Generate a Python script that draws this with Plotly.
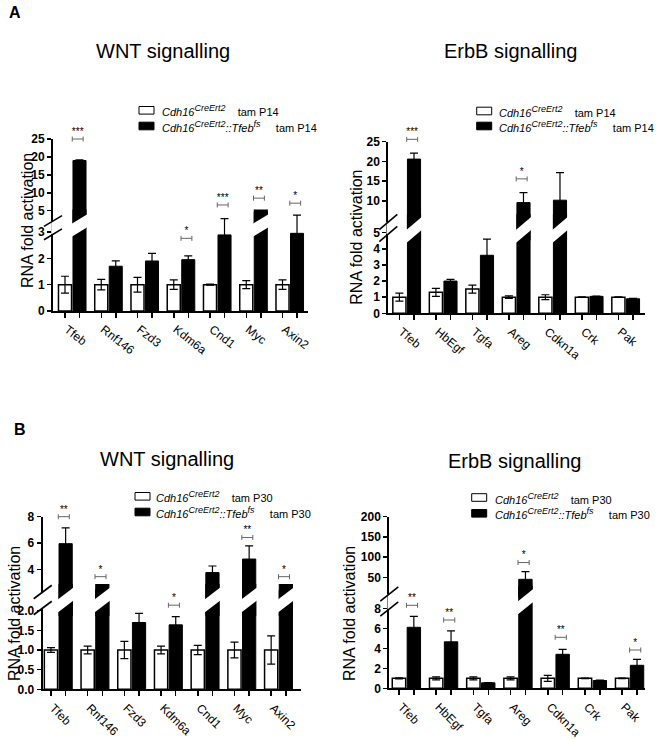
import plotly.graph_objects as go

W, H = 662, 739
FONT = "Arial, 'Liberation Sans', Helvetica, sans-serif"

# ---------------- data ----------------
wnt_genes = ["Tfeb", "Rnf146", "Fzd3", "Kdm6a", "Cnd1", "Myc", "Axin2"]
erbb_genes = ["Tfeb", "HbEgf", "Tgfa", "Areg", "Cdkn1a", "Crk", "Pak"]

# A - WNT signalling, tam P14
wnt_p14_ctrl = [1.0, 1.0, 1.0, 1.0, 1.0, 1.0, 1.0]
wnt_p14_ctrl_sem = [0.32, 0.20, 0.28, 0.18, 0.02, 0.15, 0.18]
wnt_p14_tfeb = [19.0, 1.70, 1.90, 1.95, 2.89, 4.70, 2.95]
wnt_p14_tfeb_sem = [0.15, 0.20, 0.29, 0.14, 0.62, 0.28, 0.69]
wnt_p14_stars = ["***", "", "", "*", "***", "**", "*"]
wnt_p14_star_level = [25.0, None, None, 2.76, 6.6, 8.5, 7.1]
wnt_p14_star_seg = ["hi", "", "", "lo", "hi", "hi", "hi"]

# A - ErbB signalling, tam P14
erbb_p14_ctrl = [1.0, 1.3, 1.5, 1.0, 1.0, 1.0, 1.0]
erbb_p14_ctrl_sem = [0.25, 0.25, 0.25, 0.08, 0.15, 0.02, 0.02]
erbb_p14_tfeb = [20.6, 2.0, 3.6, 9.6, 10.2, 1.05, 0.9]
erbb_p14_tfeb_sem = [1.5, 0.1, 1.0, 2.5, 7.0, 0.02, 0.02]
erbb_p14_stars = ["***", "", "", "*", "", "", ""]
erbb_p14_star_level = [25.6, None, None, 15.6, None, None, None]
erbb_p14_star_seg = ["hi", "", "", "hi", "", "", ""]

# B - WNT signalling, tam P30
wnt_p30_ctrl = [1.0, 1.0, 1.0, 1.0, 1.0, 1.0, 1.0]
wnt_p30_ctrl_sem = [0.06, 0.10, 0.22, 0.10, 0.12, 0.20, 0.36]
wnt_p30_tfeb = [5.95, 2.45, 1.70, 1.64, 3.75, 4.78, 2.42]
wnt_p30_tfeb_sem = [1.2, 0.05, 0.23, 0.21, 0.5, 1.0, 0.05]
wnt_p30_stars = ["**", "*", "", "*", "", "**", "*"]
wnt_p30_star_level = [8.0, 3.44, None, 2.14, None, 6.42, 3.44]
wnt_p30_star_seg = ["hi", "hi", "", "lo", "", "hi", "hi"]

# B - ErbB signalling, tam P30
erbb_p30_ctrl = [1.0, 1.0, 1.0, 1.0, 1.0, 1.0, 1.0]
erbb_p30_ctrl_sem = [0.05, 0.15, 0.15, 0.15, 0.3, 0.03, 0.03]
erbb_p30_tfeb = [6.1, 4.65, 0.55, 45.0, 3.4, 0.78, 2.3]
erbb_p30_tfeb_sem = [1.1, 1.1, 0.03, 19.0, 0.5, 0.05, 0.6]
erbb_p30_stars = ["**", "**", "", "*", "**", "", "*"]
erbb_p30_star_level = [8.3, 6.83, None, 86.5, 5.1, None, 3.83]
erbb_p30_star_seg = ["lo", "lo", "", "hi", "lo", "", "lo"]

# ---------------- panel geometry (pixels) ----------------
panels = [
    dict(genes=wnt_genes, ctrl=wnt_p14_ctrl, ctrl_sem=wnt_p14_ctrl_sem,
         ko=wnt_p14_tfeb, ko_sem=wnt_p14_tfeb_sem, stars=wnt_p14_stars,
         star_level=wnt_p14_star_level, star_seg=wnt_p14_star_seg, tam="P14",
         g=dict(x0=53, x1=308, xr=[-0.531, 6.503], lo_zero=311, lo_ppu=26.33,
                hi_ref_v=25, hi_ref_px=139, hi_ppu=3.585, hi_top=139,
                c=225.5, slash=(221, 234.3), m=0.6, brk=3.2,
                lo_ticks=[0, 1, 2, 3], lo_text=["0", "1", "2", "3"],
                hi_ticks=[5, 10, 15, 20, 25], xangle=38, xfont=12,
                title="WNT signalling", title_xy=(162.5, 51), ytitle_xy=(27, 221),
                leg=(139, 110.3, 126, 160))),
    dict(genes=erbb_genes, ctrl=erbb_p14_ctrl, ctrl_sem=erbb_p14_ctrl_sem,
         ko=erbb_p14_tfeb, ko_sem=erbb_p14_tfeb_sem, stars=erbb_p14_stars,
         star_level=erbb_p14_star_level, star_seg=erbb_p14_star_seg, tam="P14",
         g=dict(x0=388.3, x1=645, xr=[-0.504, 6.529], lo_zero=313.3, lo_ppu=16.12,
                hi_ref_v=25, hi_ref_px=141.7, hi_ppu=3.953, hi_top=141.7,
                c=230, slash=(222, 234), m=0.85, brk=5.2,
                lo_ticks=[0, 1, 2, 3, 4, 5], lo_text=["0", "1", "2", "3", "4", "5"],
                hi_ticks=[10, 15, 20, 25], xangle=40, xfont=12,
                title="ErbB signalling", title_xy=(510, 51), ytitle_xy=(356.7, 237),
                leg=(476.7, 111, 126, 496.7))),
    dict(genes=wnt_genes, ctrl=wnt_p30_ctrl, ctrl_sem=wnt_p30_ctrl_sem,
         ko=wnt_p30_tfeb, ko_sem=wnt_p30_tfeb_sem, stars=wnt_p30_stars,
         star_level=wnt_p30_star_level, star_seg=wnt_p30_star_seg, tam="P30",
         g=dict(x0=42.7, x1=301, xr=[-0.425, 6.613], lo_zero=689.3, lo_ppu=39.3,
                hi_ref_v=8, hi_ref_px=516.7, hi_ppu=13.15, hi_top=516.7,
                c=600, slash=(592, 608), m=0.75, brk=2.1,
                lo_ticks=[0, 0.5, 1, 1.5, 2], lo_text=["0.0", "0.5", "1.0", "1.5", "2.0"],
                hi_ticks=[4, 6, 8], xangle=45, xfont=12,
                title="WNT signalling", title_xy=(167, 459), ytitle_xy=(14, 614),
                leg=(135, 496.3, 512, 154.3))),
    dict(genes=erbb_genes, ctrl=erbb_p30_ctrl, ctrl_sem=erbb_p30_ctrl_sem,
         ko=erbb_p30_tfeb, ko_sem=erbb_p30_tfeb_sem, stars=erbb_p30_stars,
         star_level=erbb_p30_star_level, star_seg=erbb_p30_star_seg, tam="P30",
         g=dict(x0=389.3, x1=645, xr=[-0.46, 6.414], lo_zero=688.3, lo_ppu=10.0,
                hi_ref_v=200, hi_ref_px=516.7, hi_ppu=0.404, hi_top=516.7,
                c=601.7, slash=(594, 609), m=0.8, brk=8.5,
                lo_ticks=[0, 2, 4, 6, 8], lo_text=["0", "2", "4", "6", "8"],
                hi_ticks=[50, 100, 150, 200], xangle=45, xfont=12,
                title="ErbB signalling", title_xy=(514, 461), ytitle_xy=(349, 614),
                leg=(471.7, 497.5, 513.3, 492.7))),
]

BW = 0.36      # bar width (category units)
OFF = 0.2      # offset of each bar from category centre
SIG_DX = 0.15  # bracket centre offset
SIG_HW = 0.15  # bracket half width
BAND_T = 13    # thickness of the white break band (px)
EXTRA = 30     # extra px above the top segment for brackets


def py(px):
    return 1 - px / H


def ax_names(i):
    return ("x" if i == 1 else f"x{i}", "y" if i == 1 else f"y{i}",
            "xaxis" if i == 1 else f"xaxis{i}", "yaxis" if i == 1 else f"yaxis{i}")


fig = go.Figure()
lay = {}
shapes = []
annotations = []

for k, P in enumerate(panels):
    G = P["g"]
    genes = P["genes"]
    xs = list(range(len(genes)))
    xa_lo, ya_lo, xk_lo, yk_lo = ax_names(3 * k + 1)
    xa_hi, ya_hi, xk_hi, yk_hi = ax_names(3 * k + 2)
    xa_sg, ya_sg, xk_sg, yk_sg = ax_names(3 * k + 3)

    c = G["c"]
    lo_top_px = c - 16
    lo_range = [0, (G["lo_zero"] - lo_top_px) / G["lo_ppu"]]
    zero_hi_px = G["hi_ref_px"] + G["hi_ref_v"] * G["hi_ppu"]
    hi_bot_px = min(c + 16, zero_hi_px)
    hi_range = [G["hi_ref_v"] - (hi_bot_px - G["hi_ref_px"]) / G["hi_ppu"],
                G["hi_ref_v"] + (G["hi_ref_px"] - G["hi_top"]) / G["hi_ppu"]]
    sg_range = [hi_range[0], hi_range[1] + EXTRA / G["hi_ppu"]]
    brk = G["brk"]
    fill_lo = lo_range[1] * 3

    def split(vals, sems):
        lo_v = [v if v <= brk else fill_lo for v in vals]
        hi_v = [v if v > brk else None for v in vals]
        hi_s = [s if v > brk else None for v, s in zip(vals, sems)]
        return lo_v, sems, hi_v, hi_s

    series = [
        (P["ctrl"], P["ctrl_sem"], "white", 1.5, -OFF, f"Cdh16 CreErt2 tam {P['tam']}"),
        (P["ko"], P["ko_sem"], "black", 1.0, OFF, f"Cdh16 CreErt2::Tfeb fs tam {P['tam']}"),
    ]
    for vals, sems, col, lw, off, name in series:
        lo_v, lo_s, hi_v, hi_s = split(vals, sems)
        for yv, ys, xa, ya in ((lo_v, lo_s, xa_lo, ya_lo), (hi_v, hi_s, xa_hi, ya_hi)):
            if all(v is None for v in yv):
                continue
            fig.add_trace(go.Bar(
                x=xs, y=yv, width=BW, offset=off - BW / 2, name=name,
                marker=dict(color=col, line=dict(color="black", width=lw)),
                error_y=dict(type="data", array=ys, visible=True, color="black",
                             thickness=1.2, width=4),
                xaxis=xa, yaxis=ya, showlegend=False, hoverinfo="skip"))

    # significance brackets + stars
    for seg, xa, ya in (("lo", xa_lo, ya_lo), ("hi", xa_sg, ya_sg)):
        idx = [i for i in xs if P["star_seg"][i] == seg]
        if not idx:
            continue
        fig.add_trace(go.Scatter(
            x=[i + SIG_DX for i in idx], y=[P["star_level"][i] for i in idx],
            text=[P["stars"][i] for i in idx], mode="markers+text",
            textposition="top center",
            textfont=dict(size=10, color="black", family=FONT),
            marker=dict(size=1, color="rgba(0,0,0,0)"),
            error_x=dict(type="constant", value=SIG_HW, color="#666666",
                         thickness=1, width=2.5),
            cliponaxis=False, xaxis=xa, yaxis=ya, showlegend=False,
            hoverinfo="skip"))

    xdom = [G["x0"] / W, G["x1"] / W]
    minor_vals = [i + d for i in xs for d in (-OFF, OFF)]
    lay[xk_lo] = dict(
        domain=xdom, range=G["xr"], anchor=ya_lo, tickmode="array",
        tickvals=xs, ticktext=genes, tickangle=G["xangle"], ticks="outside", ticklen=5,
        tickcolor="rgba(0,0,0,0)", showline=True, linecolor="black", linewidth=2,
        showgrid=False, zeroline=False, automargin=False, fixedrange=True,
        ticklabelshift=-5,
        tickfont=dict(size=G["xfont"], family=FONT, color="black"),
        minor=dict(tickmode="array", tickvals=minor_vals, ticks="outside",
                   ticklen=5, tickwidth=1.5, tickcolor="black", showgrid=False))
    lay[xk_hi] = dict(domain=xdom, range=G["xr"], anchor=ya_hi,
                      visible=False, fixedrange=True)
    lay[xk_sg] = dict(domain=xdom, range=G["xr"], anchor=ya_sg,
                      visible=False, fixedrange=True)
    yaxis_common = dict(ticks="outside", ticklen=4, tickwidth=1.5, tickcolor="black",
                        showline=True, linecolor="black", linewidth=2,
                        showgrid=False, zeroline=False, automargin=False,
                        fixedrange=True,
                        tickfont=dict(size=12, family=FONT, color="black",
                                      weight="bold"))
    lay[yk_lo] = dict(domain=[py(G["lo_zero"]), py(lo_top_px)], range=lo_range,
                      anchor=xa_lo, tickmode="array", tickvals=G["lo_ticks"],
                      ticktext=G["lo_text"], **yaxis_common)
    lay[yk_hi] = dict(domain=[py(hi_bot_px), py(G["hi_top"])], range=hi_range,
                      anchor=xa_hi, tickmode="array", tickvals=G["hi_ticks"],
                      ticktext=[str(t) for t in G["hi_ticks"]], **yaxis_common)
    lay[yk_sg] = dict(domain=[py(hi_bot_px), py(G["hi_top"] - EXTRA)], range=sg_range,
                      anchor=xa_sg, visible=False, fixedrange=True)

    # axis break: hide axis between slashes, draw the two slashes
    ax = G["x0"]
    s_hi, s_lo = G["slash"]
    m = G["m"]
    shapes.append(dict(type="rect", xref="paper", yref="paper",
                       x0=(ax - 1.8) / W, x1=(ax + 1.8) / W, y0=py(s_lo), y1=py(s_hi),
                       fillcolor="white", line=dict(width=0), layer="above"))
    for s in (s_hi, s_lo):
        L = 9
        shapes.append(dict(type="line", xref="paper", yref="paper",
                           x0=(ax - L) / W, y0=py(s + m * L), x1=(ax + L) / W,
                           y1=py(s - m * L), line=dict(color="black", width=1.6),
                           layer="above"))
    # break band across broken bars
    sp = (G["x1"] - G["x0"]) / (G["xr"][1] - G["xr"][0])
    hw = BW / 2 + 0.07
    hw_px = hw * sp
    for vals, off in ((P["ctrl"], -OFF), (P["ko"], OFF)):
        for i, v in enumerate(vals):
            if v <= brk:
                continue
            xc = i + off
            xL, xR = xc - hw, xc + hw
            yL_lo = c + BAND_T / 2 + m * hw_px
            yR_lo = c + BAND_T / 2 - m * hw_px
            yR_hi = c - BAND_T / 2 - m * hw_px
            yL_hi = c - BAND_T / 2 + m * hw_px
            path = (f"M{xL},{py(yL_lo)} L{xR},{py(yR_lo)} "
                    f"L{xR},{py(yR_hi)} L{xL},{py(yL_hi)} Z")
            shapes.append(dict(type="path", xref=xa_lo, yref="paper", path=path,
                               fillcolor="white", line=dict(width=0), layer="above"))

    # titles
    tx, ty = G["title_xy"]
    annotations.append(dict(text=G["title"], x=tx / W, y=py(ty), xref="paper",
                            yref="paper", xanchor="center", yanchor="middle",
                            showarrow=False,
                            font=dict(size=20, family=FONT, color="black")))
    yx, yy = G["ytitle_xy"]
    annotations.append(dict(text="RNA fold activation", x=yx / W, y=py(yy),
                            xref="paper", yref="paper", xanchor="center",
                            yanchor="middle", textangle=-90, showarrow=False,
                            font=dict(size=16, family=FONT, color="black")))

    # legend (drawn manually)
    bx, r1, r2, tx0 = G["leg"]
    for rowy, col in ((r1, "white"), (r2, "black")):
        shapes.append(dict(type="rect", xref="paper", yref="paper",
                           x0=bx / W, x1=(bx + 15) / W, y0=py(rowy + 3.8),
                           y1=py(rowy - 3.8), fillcolor=col,
                           line=dict(color="black", width=1)))
    sup = lambda s: f"<sup><span style='font-size:9px'>{s}</span></sup>"
    lab1 = f"<i>Cdh16{sup('CreErt2')}</i>&nbsp;&nbsp;&nbsp;&nbsp;tam {P['tam']}"
    lab2 = (f"<i>Cdh16{sup('CreErt2')}::Tfeb{sup('fs')}</i>"
            f"&nbsp;&nbsp;&nbsp;&nbsp;&nbsp;tam {P['tam']}")
    for rowy, lab in ((r1, lab1), (r2, lab2)):
        annotations.append(dict(text=lab, x=tx0 / W, y=py(rowy + 0.5), xref="paper",
                                yref="paper", xanchor="left", yanchor="middle",
                                showarrow=False,
                                font=dict(size=11, family=FONT, color="black")))

# panel letters
annotations.append(dict(text="<b>A</b>", x=7 / W, y=py(12.5), xref="paper", yref="paper",
                        xanchor="left", yanchor="middle", showarrow=False,
                        font=dict(size=16, family=FONT, color="black")))
annotations.append(dict(text="<b>B</b>", x=12 / W, y=py(429.5), xref="paper",
                        yref="paper", xanchor="left", yanchor="middle",
                        showarrow=False, font=dict(size=16, family=FONT, color="black")))

fig.update_layout(
    width=W, height=H, margin=dict(l=0, r=0, t=0, b=0),
    paper_bgcolor="white", plot_bgcolor="rgba(0,0,0,0)",
    barmode="overlay", showlegend=False, font=dict(family=FONT, color="black"),
    shapes=shapes, annotations=annotations, **lay)

fig.write_html(
    "out.html",
    config={"displayModeBar": False, "staticPlot": True},
    post_script="document.body.style.margin='0';document.body.style.overflow='hidden';")
